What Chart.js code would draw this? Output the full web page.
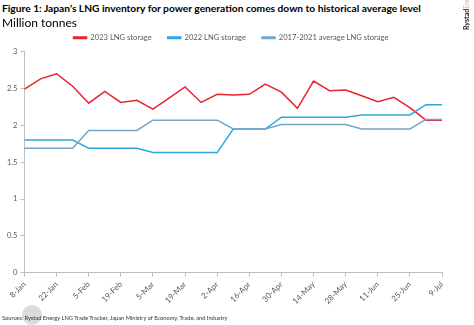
<!DOCTYPE html>
<html>
<head>
<meta charset="utf-8">
<script src="https://cdn.jsdelivr.net/npm/chart.js@4"></script>
<style>
  body { margin: 0; width: 474px; height: 325px; background: #fff; position: relative; overflow: hidden; font-family: Lato, "Liberation Sans", sans-serif; }
  #title { position: absolute; left: 2px; top: 2px; font-size: 11px; font-weight: bold; color: #000; white-space: nowrap; z-index: 2; }
  #unit { position: absolute; left: 2px; top: 15px; font-size: 12px; color: #000; z-index: 2; }
  #logo { position: absolute; left: 462px; top: 30px; transform: rotate(-90deg); transform-origin: 0 0; font-size: 7px; white-space: nowrap; z-index: 2; }
  #logo b { color: #222; }
  #logo span { color: #e8b08a; }
  #wrap { position: absolute; left: 0; top: 18px; width: 474px; height: 291px; }
  #src { position: absolute; left: 2px; top: 314px; font-size: 5.5px; color: #333; white-space: nowrap; z-index: 2; }
  #dot { position: absolute; left: 22px; top: 305px; width: 20px; height: 20px; border-radius: 50%; background: rgba(190,190,190,0.55); z-index: 1; }
</style>
</head>
<body>
<div id="title">Figure 1: Japan’s LNG inventory for power generation comes down to historical average level</div>
<div id="unit">Million tonnes</div>
<div id="logo"><b>Rystad</b><span>Energy</span></div>
<div id="wrap"><canvas id="chart"></canvas></div>
<div id="dot"></div>
<div id="src">Sources: Rystad Energy LNG Trade Tracker, Japan Ministry of Economy, Trade, and Industry</div>
<script>
const weeks = ['8-Jan', '15-Jan', '22-Jan', '29-Jan', '5-Feb', '12-Feb', '19-Feb', '26-Feb', '5-Mar', '12-Mar',
    '19-Mar', '26-Mar', '2-Apr', '9-Apr', '16-Apr', '23-Apr', '30-Apr', '7-May', '14-May', '21-May',
    '28-May', '4-Jun', '11-Jun', '18-Jun', '25-Jun', '2-Jul', '9-Jul'];

const storage2023 = [2.49, 2.63, 2.70, 2.53, 2.30, 2.46, 2.31, 2.34, 2.22, 2.37,
    2.52, 2.31, 2.42, 2.41, 2.42, 2.56, 2.45, 2.23, 2.60, 2.47,
    2.48, 2.40, 2.32, 2.38, 2.24, 2.07, 2.07];
const storage2022 = [1.80, 1.80, 1.80, 1.80, 1.69, 1.69, 1.69, 1.69, 1.63, 1.63,
    1.63, 1.63, 1.63, 1.95, 1.95, 1.95, 2.11, 2.11, 2.11, 2.11,
    2.11, 2.14, 2.14, 2.14, 2.14, 2.28, 2.28];
const storageAvg = [1.69, 1.69, 1.69, 1.69, 1.93, 1.93, 1.93, 1.93, 2.07, 2.07,
    2.07, 2.07, 2.07, 1.95, 1.95, 1.95, 2.01, 2.01, 2.01, 2.01,
    2.01, 1.95, 1.95, 1.95, 1.95, 2.08, 2.08];

const axisGrey = '#bfbfbf';
const textGrey = '#595959';

// squeeze the html texts to the widths they have in the picture
function fitWidth(id, target) {
    const el = document.getElementById(id);
    const size = parseFloat(getComputedStyle(el).fontSize);
    el.style.fontSize = (size * target / el.getBoundingClientRect().width) + 'px';
}
fitWidth('title', 419);
fitWidth('src', 226);

const line = (label, data, color) => ({
    label, data,
    borderColor: color,
    backgroundColor: color,
    borderWidth: 1.5,
    pointRadius: 0,
    tension: 0
});

// the legend sits a little right of the plot's centre
const legendShift = {
    id: 'legendShift',
    afterLayout(chart) {
        chart.legend.left += 8;
        chart.legend.right += 8;
    }
};

new Chart(document.getElementById('chart'), {
    type: 'line',
    data: {
        labels: weeks,
        datasets: [
            line('2023 LNG storage', storage2023, '#e8242c'),
            line('2022 LNG storage', storage2022, '#2ea6df'),
            line('2017-2021 average LNG storage', storageAvg, '#74a5c8')
        ].reverse()
    },
    plugins: [legendShift],
    options: {
        responsive: true,
        maintainAspectRatio: false,
        animation: false,
        layout: { padding: { right: 32, left: 4, bottom: 0 } },
        plugins: {
            legend: {
                reverse: true,
                labels: {
                    boxWidth: 13,
                    boxHeight: 1.5,
                    padding: 16,
                    color: textGrey,
                    font: { size: 7.6, family: 'Lato' }
                }
            },
            tooltip: { enabled: false }
        },
        scales: {
            x: {
                offset: false,
                grid: { display: true, drawOnChartArea: false, drawTicks: true, tickLength: 4, color: axisGrey },
                border: { color: axisGrey },
                ticks: {
                    autoSkip: false,
                    minRotation: 45,
                    maxRotation: 45,
                    color: textGrey,
                    font: { size: 8, family: 'Lato' },
                    callback: (v, i) => i % 2 === 0 ? weeks[i] : null
                }
            },
            y: {
                min: 0,
                max: 3,
                grid: { display: true, drawOnChartArea: false, drawTicks: true, tickLength: 4, color: axisGrey },
                border: { color: axisGrey },
                ticks: {
                    stepSize: 0.5,
                    padding: 3,
                    color: textGrey,
                    font: { size: 7.5, family: 'Lato' },
                    callback: v => String(v)
                }
            }
        }
    }
});
</script>
</body>
</html>
